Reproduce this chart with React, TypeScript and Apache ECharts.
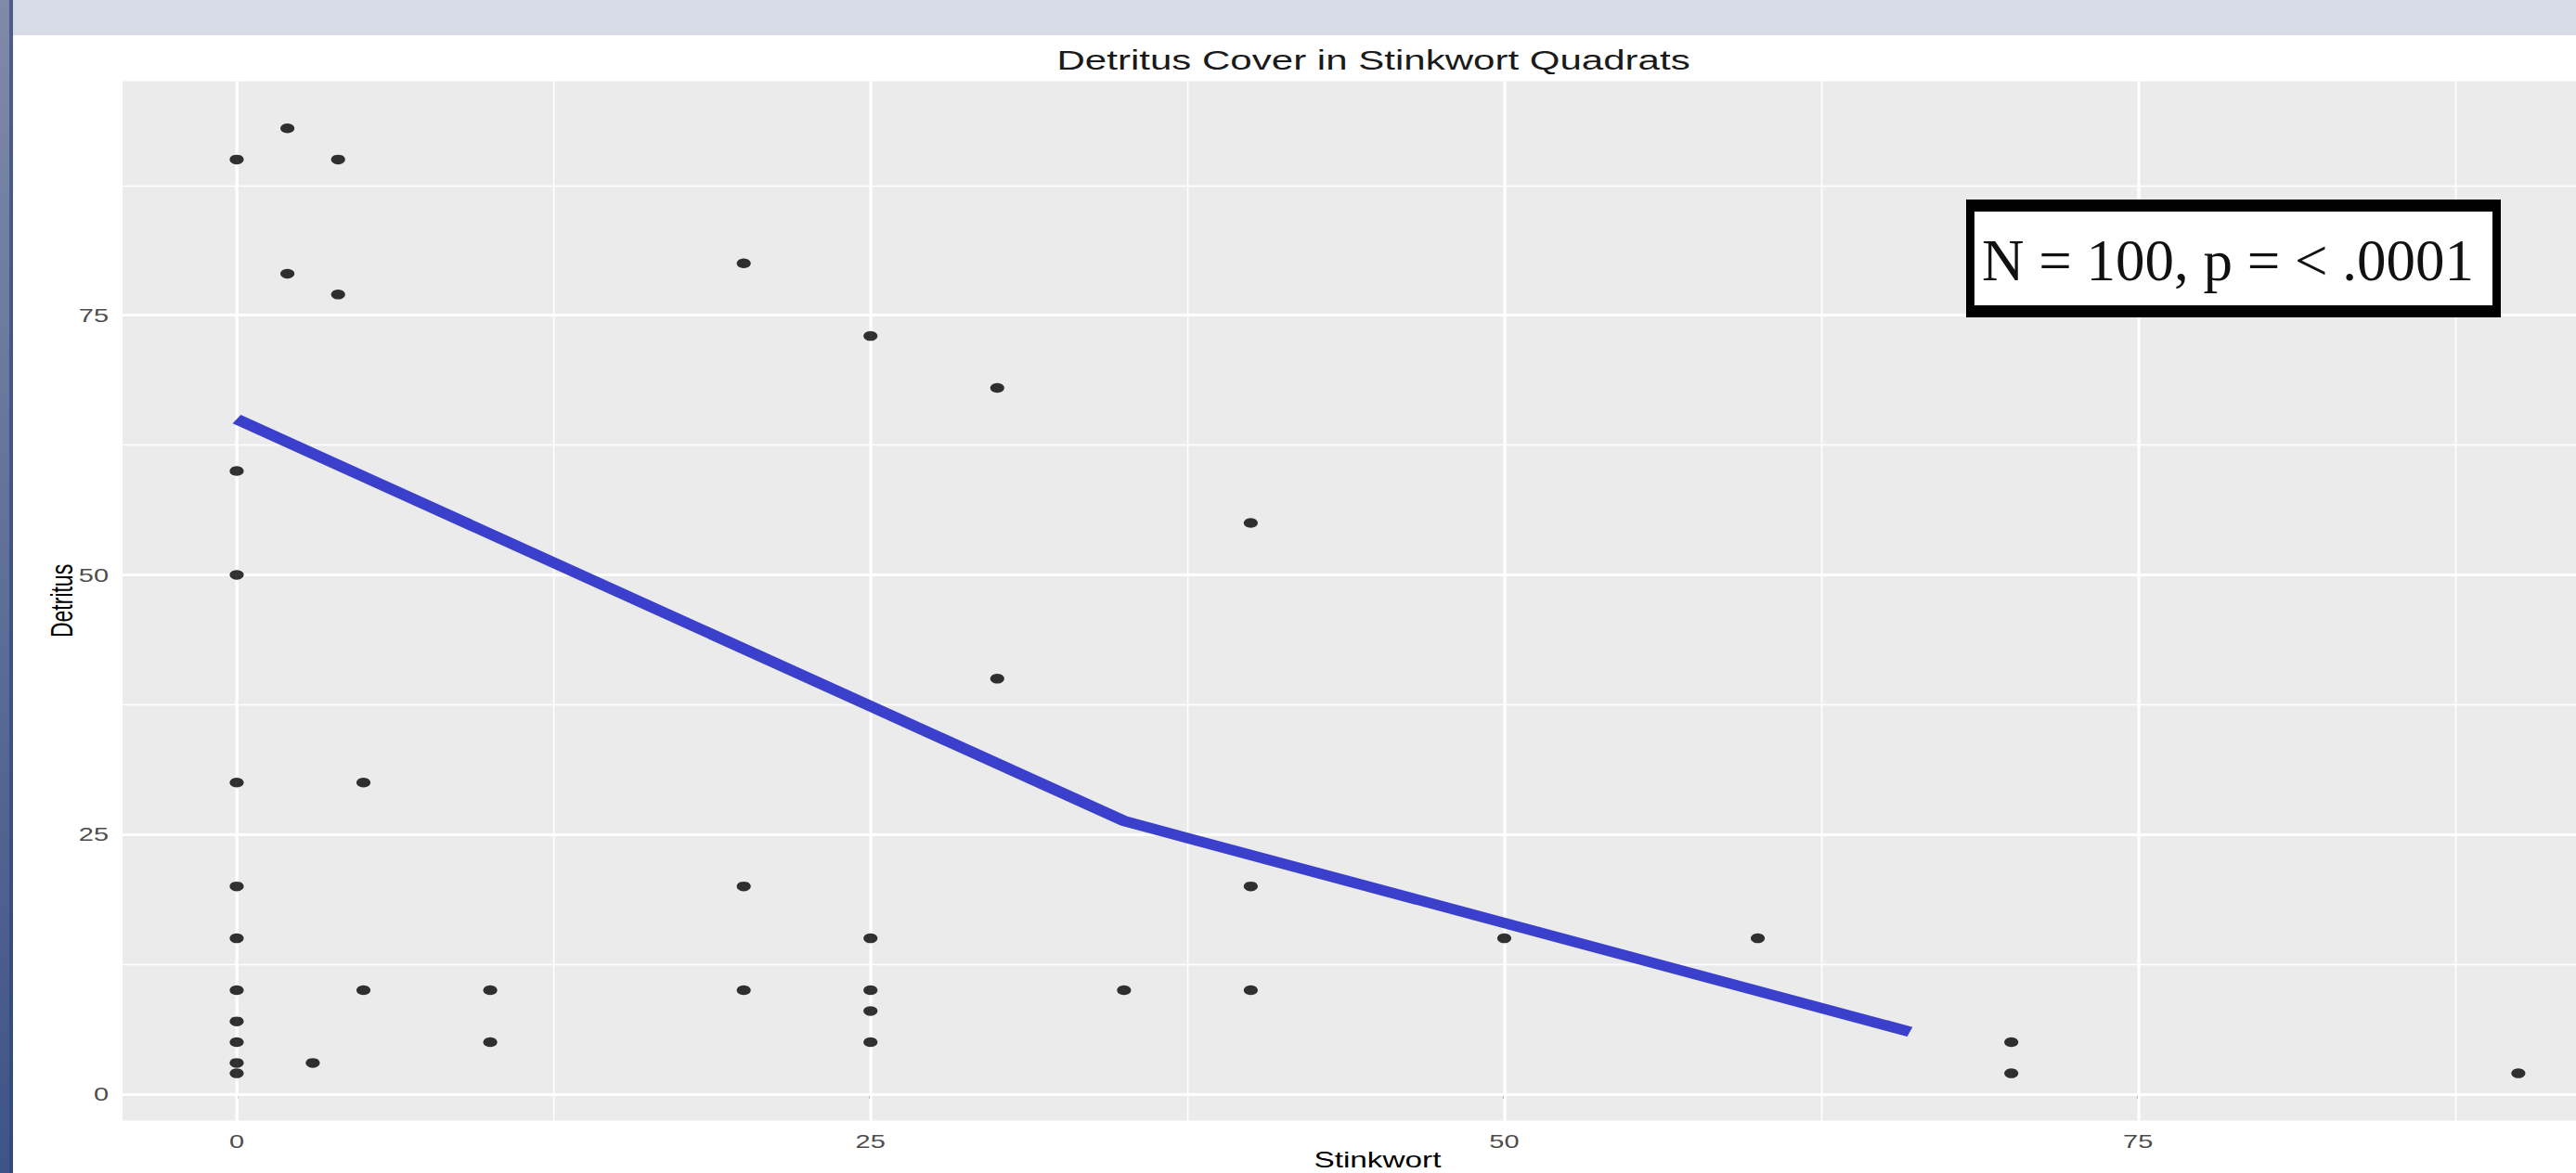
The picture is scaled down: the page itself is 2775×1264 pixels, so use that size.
import React, { useEffect, useRef } from "react";
import * as echarts from "echarts";

// The reference screenshot is stretched horizontally; reproduce with a horizontal scale.
const S = 1.45;
const W = 2775 / S;
const H = 1264;

// ---- data ----
const stinkwort = [2, 0, 4, 2, 4, 20, 25, 30, 40, 0, 0, 30, 0, 5, 0, 20, 40, 0, 25, 50, 60, 0, 5, 10, 20, 25, 35, 40, 25, 0, 0, 10, 25, 70, 0, 3, 0, 70, 90];
const detritus = [93, 90, 90, 79, 77, 80, 73, 68, 55, 60, 50, 40, 30, 30, 20, 20, 20, 15, 15, 15, 15, 10, 10, 10, 10, 10, 10, 10, 8, 7, 5, 5, 5, 5, 3, 3, 2, 2, 2];
const smoothX = [0, 35, 66];
const smoothY = [65, 26.3, 6];
const majorTicks = [0, 25, 50, 75];
const minorTicks = [12.5, 37.5, 62.5, 87.5];
const xLimits = [-4.5, 94.5];
const yLimits = [-2.55, 97.55];
const titleText = "Detritus Cover in Stinkwort Quadrats";
const xTitle = "Stinkwort";
const yTitle = "Detritus";
const noteText = "N = 100, p = < .0001";

const sans = "'Liberation Sans', Arial, sans-serif";
const serif = "'Liberation Serif', 'Times New Roman', serif";

// layout (chart px, before the horizontal scale)
const gridLeft = 91.1;
const gridTop = 87.4;
const gridWidth = 1864.6;
const gridHeight = 1120.1;
const panelCenter = gridLeft + gridWidth / 2;

export default function App() {
  const ref = useRef<HTMLDivElement>(null);
  useEffect(() => {
    document.body.style.margin = "0";
    document.body.style.overflow = "hidden";
    const chart = echarts.init(ref.current as HTMLDivElement, null, { renderer: "svg" });
    const points = stinkwort.map((x, i) => [x, detritus[i]]);
    const smooth = smoothX.map((x, i) => [x, smoothY[i]]);
    const gridLines = [
      ...minorTicks.map((v) => ({ xAxis: v, lineStyle: { width: 1.1 } })),
      ...minorTicks.map((v) => ({ yAxis: v, lineStyle: { width: 1.4 } })),
      ...majorTicks.map((v) => ({ xAxis: v, lineStyle: { width: 2.2 } })),
      ...majorTicks.map((v) => ({ yAxis: v, lineStyle: { width: 2.8 } })),
    ];
    chart.setOption({
      animation: false,
      backgroundColor: "#FFFFFF",
      title: {
        text: titleText,
        left: panelCenter - 8,
        top: 46,
        textAlign: "center",
        textStyle: { fontSize: 29, fontWeight: "normal", color: "#1A1A1A", fontFamily: sans, lineHeight: 28 },
      },
      grid: {
        left: gridLeft,
        top: gridTop,
        width: gridWidth,
        height: gridHeight,
        show: true,
        backgroundColor: "#EBEBEB",
        borderWidth: 0,
        containLabel: false,
        outerBoundsMode: "none",
      },
      xAxis: {
        type: "value",
        min: xLimits[0],
        max: xLimits[1],
        name: xTitle,
        nameLocation: "middle",
        nameMoveOverlap: false,
        nameGap: 32,
        nameTextStyle: { fontSize: 23, color: "#000", fontFamily: sans, lineHeight: 20 },
        axisLine: { show: false },
        axisTick: { show: true, customValues: majorTicks, length: 5, lineStyle: { color: "#333333", width: 1.4 } },
        axisLabel: { customValues: majorTicks, margin: 12, fontSize: 20, color: "#4D4D4D", fontFamily: sans },
        splitLine: { show: false },
      },
      yAxis: {
        type: "value",
        min: yLimits[0],
        max: yLimits[1],
        name: yTitle,
        nameLocation: "middle",
        nameMoveOverlap: false,
        nameGap: 34,
        nameTextStyle: { fontSize: 23, color: "#000", fontFamily: sans, lineHeight: 23 },
        axisLine: { show: false },
        axisTick: { show: true, customValues: majorTicks, length: 5, lineStyle: { color: "#333333", width: 2 } },
        axisLabel: { customValues: majorTicks, margin: 10.4, fontSize: 20, color: "#4D4D4D", fontFamily: sans },
        splitLine: { show: false },
      },
      series: [
        {
          type: "scatter",
          z: 3,
          data: points,
          symbol: "circle",
          symbolSize: 10.5,
          itemStyle: { color: "#000000" },
          silent: true,
          markLine: {
            z: 1,
            silent: true,
            animation: false,
            symbol: ["none", "none"],
            label: { show: false },
            lineStyle: { color: "#FFFFFF", type: "solid" },
            emphasis: { disabled: true },
            data: gridLines,
          },
        },
        {
          type: "line",
          z: 4,
          data: smooth,
          showSymbol: false,
          silent: true,
          lineStyle: { color: "#3A40CC", width: 11, join: "round" },
        },
      ],
      graphic: [
        {
          type: "rect",
          shape: { x: 9.66, y: 0, width: W - 9.66, height: 38 },
          style: { fill: "#D6DBE5" },
          silent: true,
        },
        {
          type: "rect",
          shape: { x: 0, y: 0, width: 6.9, height: H },
          style: {
            fill: new echarts.graphic.LinearGradient(0, 0, 0, 1, [
              { offset: 0, color: "#7E8AA8" },
              { offset: 1, color: "#3E5387" },
            ]),
          },
          silent: true,
        },
        {
          type: "rect",
          shape: { x: 6.9, y: 0, width: 2.76, height: H },
          style: {
            fill: new echarts.graphic.LinearGradient(0, 0, 0, 1, [
              { offset: 0, color: "#4C5D8D" },
              { offset: 1, color: "#33487C" },
            ]),
          },
          silent: true,
        },
        {
          type: "rect",
          shape: { x: 2118 / S, y: 215, width: 576 / S, height: 127 },
          style: { fill: "#000000" },
          z: 10,
          silent: true,
        },
        {
          type: "rect",
          shape: { x: 2127 / S, y: 228, width: 558 / S, height: 101 },
          style: { fill: "#FFFFFF" },
          z: 11,
          silent: true,
        },
        {
          type: "text",
          x: 2400 / S,
          y: 281,
          scaleX: 1 / S,
          z: 12,
          silent: true,
          style: {
            text: noteText,
            fontSize: 63,
            fontFamily: serif,
            fill: "#111111",
            align: "center",
            verticalAlign: "middle",
          },
        },
      ],
    });
    return () => chart.dispose();
  }, []);
  return (
    <div
      ref={ref}
      style={{
        position: "absolute",
        left: 0,
        top: 0,
        width: W,
        height: H,
        transform: `scaleX(${S})`,
        transformOrigin: "0 0",
        background: "#fff",
      }}
    />
  );
}
